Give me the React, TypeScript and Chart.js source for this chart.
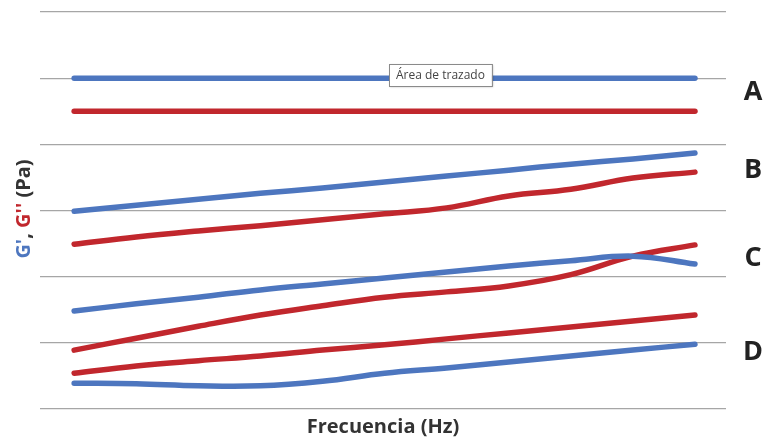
import React, { useEffect, useRef } from "react";
import { Chart, registerables } from "chart.js";

Chart.register(...registerables);

const xValues = [0, 1, 2, 3, 4, 5, 6, 7, 8, 9, 10];

const aGp = [5.0, 5.0, 5.0, 5.0, 5.0, 5.0, 5.0, 5.0, 5.0, 5.0, 5.0];
const aGpp = [4.5, 4.5, 4.5, 4.5, 4.5, 4.5, 4.5, 4.5, 4.5, 4.5, 4.5];
const bGp = [2.99, 3.08, 3.17, 3.26, 3.34, 3.43, 3.52, 3.61, 3.7, 3.78, 3.87];
const bGpp = [2.49, 2.6, 2.69, 2.77, 2.86, 2.95, 3.04, 3.22, 3.32, 3.49, 3.58];
const cGp = [1.48, 1.59, 1.69, 1.8, 1.89, 1.98, 2.07, 2.16, 2.24, 2.31, 2.19];
const cGpp = [0.89, 1.07, 1.25, 1.42, 1.56, 1.69, 1.77, 1.86, 2.03, 2.31, 2.48];
const dGp = [0.39, 0.38, 0.35, 0.35, 0.42, 0.54, 0.62, 0.71, 0.8, 0.89, 0.98];
const dGpp = [0.54, 0.65, 0.73, 0.8, 0.89, 0.97, 1.06, 1.15, 1.24, 1.33, 1.42];

const groupLetters = ["A", "B", "C", "D"];
const groupLetterValues = [4.78, 3.6, 2.28, 0.86];

const yTicks = [0, 1, 2, 3, 4, 5, 6];
const xTitle = "Frecuencia (Hz)";
const tooltipText = "Área de trazado";

const BLUE = "#4d76bf";
const RED = "#c1272d";

const toPts = (vals: number[]) => vals.map((v, i) => ({ x: xValues[i], y: v }));

const overlayPlugin = {
  id: "overlay",
  afterDraw(chart: any) {
    const { ctx, chartArea, scales } = chart;
    const ys = scales.y;
    ctx.save();
    // group letters
    ctx.fillStyle = "#222222";
    ctx.font = "bold 27px 'Open Sans'";
    ctx.textAlign = "center";
    ctx.textBaseline = "middle";
    groupLetters.forEach((l, i) => {
      ctx.fillText(l, 753, ys.getPixelForValue(groupLetterValues[i]));
    });
    // x title
    ctx.fillStyle = "#333333";
    ctx.font = "bold 20px 'Open Sans'";
    ctx.fillText(xTitle, (chartArea.left + chartArea.right) / 2, 427);
    // y title, multi-colored
    const parts = [
      { t: "G'", c: BLUE },
      { t: ", ", c: "#333333" },
      { t: "G''", c: RED },
      { t: " (Pa)", c: "#333333" },
    ];
    ctx.font = "bold 20px 'Open Sans'";
    const total = parts.reduce((s, p) => s + ctx.measureText(p.t).width, 0);
    ctx.translate(24, 209);
    ctx.rotate(-Math.PI / 2);
    ctx.textAlign = "left";
    let x = -total / 2;
    parts.forEach((p) => {
      ctx.fillStyle = p.c;
      ctx.fillText(p.t, x, 0);
      x += ctx.measureText(p.t).width;
    });
    ctx.setTransform(1, 0, 0, 1, 0, 0);
    // tooltip box
    ctx.font = "12px 'Open Sans'";
    const tw = ctx.measureText(tooltipText).width;
    const bx = 389, by = 64, bw = tw + 14, bh = 22;
    ctx.shadowColor = "rgba(0,0,0,0.25)";
    ctx.shadowOffsetX = 1;
    ctx.shadowOffsetY = 1;
    ctx.shadowBlur = 2;
    ctx.fillStyle = "#ffffff";
    ctx.fillRect(bx, by, bw, bh);
    ctx.shadowColor = "transparent";
    ctx.strokeStyle = "#8a8a8a";
    ctx.lineWidth = 1;
    ctx.strokeRect(bx + 0.5, by + 0.5, bw, bh);
    ctx.fillStyle = "#444444";
    ctx.textAlign = "left";
    ctx.textBaseline = "middle";
    ctx.fillText(tooltipText, bx + 7, by + bh / 2 + 1);
    ctx.restore();
  },
};

export default function App() {
  const ref = useRef<HTMLCanvasElement>(null);
  useEffect(() => {
    if (!ref.current) return;
    const mk = (label: string, data: number[], color: string) => ({
      label,
      data: toPts(data),
      borderColor: color,
      backgroundColor: color,
      borderWidth: 5.5,
      borderCapStyle: "round" as const,
      borderJoinStyle: "round" as const,
      pointRadius: 0,
      tension: 0.4,
      fill: false,
    });
    const chart = new Chart(ref.current, {
      type: "line",
      data: {
        datasets: [
          mk("A G'", aGp, BLUE),
          mk("A G''", aGpp, RED),
          mk("B G'", bGp, BLUE),
          mk("B G''", bGpp, RED),
          mk("C G'", cGp, BLUE),
          mk("C G''", cGpp, RED),
          mk("D G''", dGpp, RED),
          mk("D G'", dGp, BLUE),
        ],
      },
      options: {
        animation: false,
        responsive: false,
        maintainAspectRatio: false,
        layout: { padding: { left: 40, right: 40, top: 12, bottom: 31 } },
        plugins: { legend: { display: false }, tooltip: { enabled: false } },
        scales: {
          x: {
            type: "linear",
            min: -0.55,
            max: 10.5,
            display: false,
          },
          y: {
            min: yTicks[0],
            max: yTicks[yTicks.length - 1],
            afterBuildTicks: (axis: any) => {
              axis.ticks = yTicks.map((v) => ({ value: v }));
            },
            ticks: { display: false },
            border: { display: false },
            grid: { color: "#a6a6a6", lineWidth: 1.2, drawTicks: false },
          },
        },
      },
      plugins: [overlayPlugin],
    });
    return () => chart.destroy();
  }, []);
  return (
    <div style={{ position: "fixed", left: 0, top: 0, width: 766, height: 440, background: "#fff" }}>
      <canvas ref={ref} width={766} height={440} style={{ display: "block" }} />
    </div>
  );
}
